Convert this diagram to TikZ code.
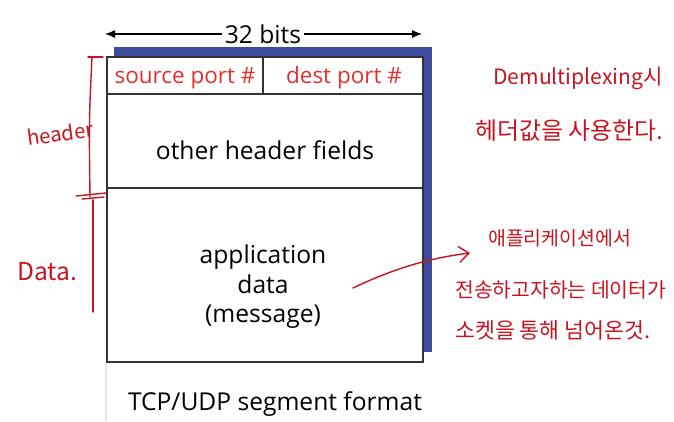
\documentclass[tikz,border=0pt]{standalone}
\usepackage{fontspec}
\setmainfont{Open Sans}
\newfontfamily\hanfont{Noto Sans CJK KR}
\usepackage{tikz}
\usetikzlibrary{arrows.meta, positioning}
\definecolor{segblue}{HTML}{3D4B9E}
\definecolor{fieldred}{HTML}{E2302B}
\definecolor{penred}{HTML}{C8141E}
\definecolor{edgegray}{HTML}{333333}
\tikzset{
  fieldbox/.style={
    draw=edgegray, line width=1.2pt, fill=white, inner sep=0pt
  },
  porttext/.style={text=fieldred, font=\fontsize{16}{19}\selectfont, inner sep=0pt},
  printlabel/.style={font=\fontsize{17.5}{21}\selectfont, inner sep=2pt, align=center},
  bitarrow/.style={-{Latex[length=2.5mm, width=2mm]}, thick},
  pennote/.style={text=penred, font=\hanfont\fontsize{15}{18}\selectfont, inner sep=0pt, anchor=west},
  penline/.style={draw=penred, line width=1pt, line cap=round},
}

\begin{document}
\begin{tikzpicture}[x=0.025cm, y=-0.025cm]
  \useasboundingbox (0,0) rectangle (674,421);

  % slide edge and blue shadow
  \draw[gray!20, line width=0.8pt] (106,362) -- (106,421);
  \fill[segblue] (114,47) rectangle (432,352);

  % segment fields
  \node[fieldbox, minimum width=3.9cm, minimum height=0.925cm] (srcport) at (185,75.5) {};
  \node[fieldbox, minimum width=4.0cm, minimum height=0.925cm] (dstport) at (343,75.5) {};
  \node[fieldbox, minimum width=7.9cm, minimum height=2.35cm] (hdrfields) at (265,141) {};
  \node[fieldbox, minimum width=7.9cm, minimum height=4.35cm] (appdata) at (265,275) {};
  \node[porttext] (srctext) at (185,78) {source port \#};
  \node[porttext] (dsttext) at (344,78) {dest port \#};
  \node[printlabel] (hdrtext) at (265,150) {other header fields};
  \node[printlabel] (apptext) at (263,287) {application\\data\\(message)};

  % width arrow
  \node[printlabel] (bits) at (263,34) {32 bits};
  \coordinate (bitsL) at (105,34);
  \coordinate (bitsR) at (422,34);
  \draw[bitarrow] (bits.west) -- (bitsL);
  \draw[bitarrow] (bits.east) -- (bitsR);

  \node[printlabel] (caption) at (275,404) {TCP/UDP segment format};

  % handwritten brackets on the left
  \coordinate (hdrtop) at (92,57);
  \coordinate (hdrbot) at (90,197);
  \coordinate (datbot) at (93,312);
  \draw[penline] (88,57) -- (103,57);
  \draw[penline] (hdrtop) .. controls (89,120) .. (hdrbot);
  \draw[penline] (76,196) -- (106,193);
  \draw[penline] (82,199) -- (104,197);
  \draw[penline] (93,200) -- (datbot);
  \node[pennote, font=\hanfont\fontsize{14.5}{16}\selectfont, rotate=8] (hdrnote) at (27,138) {header};
  \node[pennote, font=\hanfont\fontsize{17.5}{18}\selectfont] (datnote) at (17,272) {Data.};

  % handwritten notes on the right
  \node[pennote] (demux) at (493,78) {Demultiplexing시};
  \node[pennote, font=\hanfont\fontsize{17}{20}\selectfont] (hdrval) at (475,131) {헤더값을 사용한다.};
  \node[pennote, font=\hanfont\fontsize{13.8}{15}\selectfont] (appnote) at (488,238) {애플리케이션에서};
  \node[pennote, font=\hanfont\fontsize{14.5}{17}\selectfont] (sendnote) at (455,290) {전송하고자하는 데이터가};
  \node[pennote, font=\hanfont\fontsize{15.4}{18}\selectfont] (socknote) at (455,330) {소켓을 통해 넘어온것.};

  % arrow from data to note
  \coordinate (arrfrom) at (353,288);
  \coordinate (arrto) at (470,253);
  \draw[penline, -{Straight Barb[length=2.5mm, width=4mm]}] (arrfrom) .. controls (395,268) and (430,258) .. (arrto);
\end{tikzpicture}
\end{document}
